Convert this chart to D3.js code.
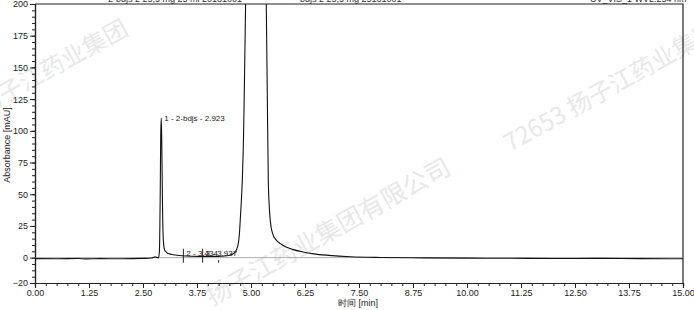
<!DOCTYPE html>
<html>
<head>
<meta charset="utf-8">
<script src="https://cdn.jsdelivr.net/npm/d3@7"></script>
<style>
  body { margin: 0; background: #fff; }
  svg { display: block; font-family: "Liberation Sans", Arial, sans-serif; }
  .axis text { font-size: 9px; fill: #222; }
  .axis path, .axis line { stroke: #222; }
</style>
</head>
<body>
<svg id="chart"></svg>
<script>
// chromatogram trace (time in min, absorbance in mAU)
var times  = [0, 0.5, 1.0, 1.2, 1.5, 2.0, 2.5, 2.7, 2.78, 2.82, 2.86, 2.88, 2.90, 2.91, 2.923, 2.935, 2.95, 2.97, 3.0, 3.05, 3.1, 3.2, 3.4, 3.8, 4.2, 4.45, 4.55, 4.62, 4.66, 4.70, 4.73, 4.76, 4.80, 4.83, 4.86, 4.90, 5.0, 5.1, 5.2, 5.3, 5.35, 5.38, 5.40, 5.42, 5.45, 5.50, 5.58, 5.68, 5.80, 5.96, 6.2, 6.45, 6.8, 7.3, 8, 9, 10, 11, 12, 13, 14, 15];
var values = [-0.8, -0.9, -0.7, -1.0, -0.8, -0.9, -0.6, -0.3, 0.6, 0.2, 0.0, 5, 55, 95, 110, 90, 45, 14, 6, 4, 3, 2.3, 1.5, 1.0, 1.0, 1.5, 2.5, 4, 6, 10, 18, 35, 62, 100, 165, 260, 450, 620, 520, 300, 210, 120, 62, 42, 28, 19, 14, 11, 8.5, 6.5, 4.5, 3, 1.8, 0.7, 0.1, -0.2, -0.4, -0.5, -0.7, -0.6, -0.8, -0.9];

var peakTimes  = [2.923];
var peakLabels = ["1 - 2-bdjs - 2.923"];
var markTimes  = [3.434, 3.88, 4.25];
var markLabels = ["2 - 3.434", "3 - 3.937", ""];

var xTicks = [0, 1.25, 2.5, 3.75, 5, 6.25, 7.5, 8.75, 10, 11.25, 12.5, 13.75, 15];
var yTicks = [-20, 0, 25, 50, 75, 100, 125, 150, 175, 200];

var W = 694, H = 310;
var svg = d3.select("#chart").attr("width", W).attr("height", H);

var x = d3.scaleLinear().domain([0, 15]).range([35, 683]);
var y = d3.scaleLinear().domain([-20, 200]).range([283, 4]);

// watermarks
var wm = [
  { t: "72653  扬子江药业集团", x: -80, y: 150, s: 24 },
  { t: "72653  扬子江药业集团", x: 510, y: 152, s: 24 },
  { t: "扬子江药业集团有限公司", x: 212, y: 306, s: 25 }
];
svg.selectAll("text.wm").data(wm).enter().append("text")
  .attr("class", "wm")
  .attr("transform", function(d) { return "translate(" + d.x + "," + d.y + ") rotate(-29)"; })
  .attr("font-family", "Noto Sans CJK SC, sans-serif")
  .attr("font-size", function(d) { return d.s; })
  .attr("fill", "#e8e8e8")
  .text(function(d) { return d.t; });

// header (cut off at top)
var header = [
  { t: "2-bdjs 2 25,5 mg 25 ml 20131001", x: 108 },
  { t: "bdjs 2 25,5 mg 25131001", x: 300 },
  { t: "UV_VIS_1 WVL:254 nm", x: 590 }
];
svg.selectAll("text.hd").data(header).enter().append("text")
  .attr("x", function(d) { return d.x; })
  .attr("y", 2)
  .attr("font-size", 9)
  .attr("fill", "#333")
  .text(function(d) { return d.t; });

// axes
var xMinor = d3.range(0, 15.001, 0.25);
var yMinor = d3.range(-20, 200.001, 5);

svg.append("g").attr("class", "axis")
  .attr("transform", "translate(0," + y(-20) + ")")
  .call(d3.axisBottom(x).tickValues(xMinor).tickSize(3).tickFormat(""));
svg.append("g").attr("class", "axis")
  .attr("transform", "translate(0," + y(-20) + ")")
  .call(d3.axisBottom(x).tickValues(xTicks).tickSize(5).tickPadding(2)
    .tickFormat(d3.format(".2f")));

svg.append("g").attr("class", "axis")
  .attr("transform", "translate(" + x(0) + ",0)")
  .call(d3.axisLeft(y).tickValues(yMinor).tickSize(3).tickFormat(""));
svg.append("g").attr("class", "axis")
  .attr("transform", "translate(" + x(0) + ",0)")
  .call(d3.axisLeft(y).tickValues(yTicks).tickSize(5).tickPadding(2));

svg.selectAll(".axis .domain").attr("stroke-width", 1.2);

// frame top and right
svg.append("path")
  .attr("d", "M" + x(0) + "," + y(200) + "H" + x(15) + "V" + y(-20))
  .attr("fill", "none").attr("stroke", "#222").attr("stroke-width", 1.2);

// zero line
svg.append("line")
  .attr("x1", x(0)).attr("x2", x(15))
  .attr("y1", y(0)).attr("y2", y(0))
  .attr("stroke", "#777").attr("stroke-width", 0.6);

// axis titles
svg.append("text")
  .attr("transform", "translate(10," + 145 + ") rotate(-90)")
  .attr("text-anchor", "middle")
  .attr("font-size", 9).attr("fill", "#222")
  .text("Absorbance [mAU]");
svg.append("text")
  .attr("x", 358).attr("y", 306)
  .attr("text-anchor", "middle")
  .attr("font-size", 9).attr("fill", "#222")
  .text("时间 [min]");

// trace
svg.append("clipPath").attr("id", "plotclip")
  .append("rect")
  .attr("x", x(0)).attr("y", y(200))
  .attr("width", x(15) - x(0)).attr("height", y(-20) - y(200));

var line = d3.line()
  .x(function(d, i) { return x(times[i]); })
  .y(function(d) { return y(d); })
  .curve(d3.curveMonotoneX);

svg.append("path")
  .datum(values)
  .attr("clip-path", "url(#plotclip)")
  .attr("d", line)
  .attr("fill", "none")
  .attr("stroke", "#111")
  .attr("stroke-width", 1.1);

// peak labels
svg.selectAll("text.pk").data(peakTimes).enter().append("text")
  .attr("x", function(d) { return x(d) + 3; })
  .attr("y", y(108))
  .attr("font-size", 8).attr("fill", "#222")
  .text(function(d, i) { return peakLabels[i]; });

// baseline markers
svg.selectAll("line.mk").data(markTimes).enter().append("line")
  .attr("x1", function(d) { return x(d); })
  .attr("x2", function(d) { return x(d); })
  .attr("y1", function(d, i) { return y(i == 2 ? -2 : 7); })
  .attr("y2", y(-4))
  .attr("stroke", "#222").attr("stroke-width", 1);
svg.selectAll("text.mk").data(markTimes).enter().append("text")
  .attr("x", function(d) { return x(d) + 3; })
  .attr("y", y(1.5))
  .attr("font-size", 8).attr("fill", "#222")
  .text(function(d, i) { return markLabels[i]; });
</script>
</body>
</html>
